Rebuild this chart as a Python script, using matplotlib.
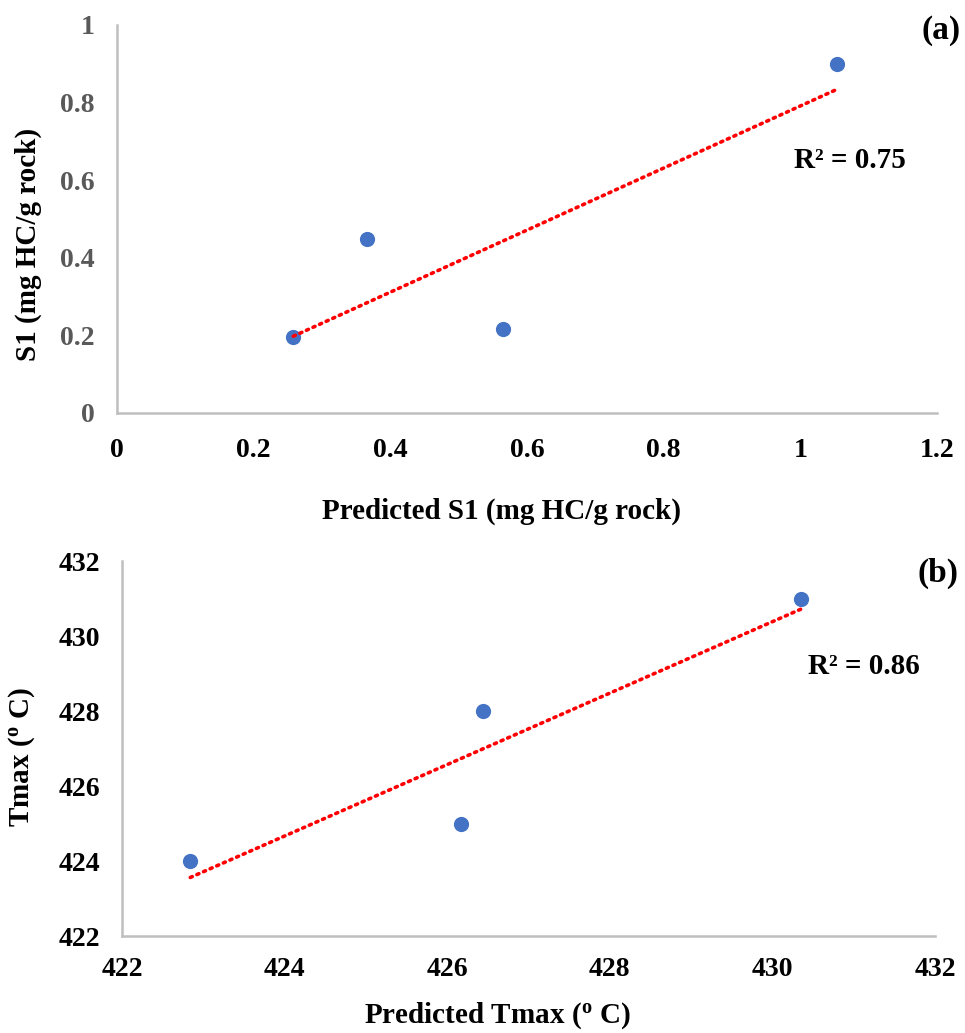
import numpy as np
import matplotlib
matplotlib.use("Agg")
import matplotlib.pyplot as plt

plt.rcParams['font.family'] = ['Liberation Serif', 'DejaVu Serif']
plt.rcParams['font.weight'] = 'bold'
plt.rcParams['mathtext.fontset'] = 'custom'
plt.rcParams['mathtext.rm'] = 'Liberation Serif:bold'
plt.rcParams['mathtext.bf'] = 'Liberation Serif:bold'
plt.rcParams['mathtext.it'] = 'Liberation Serif:bold'

# Panel (a)
s1_pred = [0.258, 0.366, 0.565, 1.054]
s1_meas = [0.196, 0.448, 0.216, 0.90]
s1_xticks = [0, 0.2, 0.4, 0.6, 0.8, 1, 1.2]
s1_yticks = [0, 0.2, 0.4, 0.6, 0.8, 1]
s1_r2 = "R² = 0.75"

# Panel (b)
t_pred = [422.84, 426.17, 426.44, 430.35]
t_meas = [424.0, 425.0, 428.0, 431.0]
t_xticks = [422, 424, 426, 428, 430, 432]
t_yticks = [422, 424, 426, 428, 430, 432]
t_r2 = "R² = 0.86"

W, H = 965, 1033
fig = plt.figure(figsize=(W/100, H/100), dpi=100)

blue = '#4472C4'
spine_c = '#BFBFBF'
TICK = 20
LAB = 21

def style(ax, ycolor, xpad, ypad):
    for s in ['top', 'right']:
        ax.spines[s].set_visible(False)
    for s in ['left', 'bottom']:
        ax.spines[s].set_color(spine_c)
        ax.spines[s].set_linewidth(1.8)
    ax.tick_params(length=0, labelsize=TICK)
    ax.tick_params(axis='x', pad=xpad)
    ax.tick_params(axis='y', pad=ypad)
    for lab in ax.get_yticklabels():
        lab.set_color(ycolor)
        lab.set_fontweight('bold')
    for lab in ax.get_xticklabels():
        lab.set_fontweight('bold')

def trend(ax, x, y):
    x = np.asarray(x); y = np.asarray(y)
    m, b = np.polyfit(x, y, 1)
    xs = np.array([x.min(), x.max()])
    ax.plot(xs, m*xs + b, linestyle=(0, (0.6, 1.4)), color='#FF0000', linewidth=2.6,
            dash_capstyle='round', zorder=3)

# Top
ax1 = fig.add_axes([117/W, 1-413/H, (937-117)/W, (413-25)/H])
ax1.scatter(s1_pred, s1_meas, s=120, color=blue, zorder=2, linewidths=0)
trend(ax1, s1_pred, s1_meas)
ax1.set_xlim(0, 1.2); ax1.set_ylim(0, 1)
ax1.set_xticks(s1_xticks); ax1.set_yticks(s1_yticks)
ax1.set_xticklabels(['0', '0.2', '0.4', '0.6', '0.8', '1', '1.2'])
ax1.set_yticklabels(['0', '0.2', '0.4', '0.6', '0.8', '1'])
style(ax1, '#595959', 18, 16)
fig.text(501/W, 1-511/H, 'Predicted S1 (mg HC/g rock)', fontsize=LAB, fontweight='bold',
         ha='center', va='center')
fig.text(28/W, 1-244/H, 'S1 (mg HC/g rock)', fontsize=LAB, fontweight='bold',
         ha='center', va='center', rotation=90)
fig.text(850/W, 1-160/H, s1_r2, fontsize=LAB, fontweight='bold', ha='center', va='center')
fig.text(941/W, 1-30/H, '(a)', fontsize=24, fontweight='bold', ha='center', va='center')

# Bottom
ax2 = fig.add_axes([122/W, 1-936/H, (935-122)/W, (936-561)/H])
ax2.scatter(t_pred, t_meas, s=120, color=blue, zorder=2, linewidths=0)
trend(ax2, t_pred, t_meas)
ax2.set_xlim(422, 432); ax2.set_ylim(422, 432)
ax2.set_xticks(t_xticks); ax2.set_yticks(t_yticks)
style(ax2, 'black', 15, 16)
fig.text(497/W, 1-1016/H, r'Predicted Tmax ($^{\mathbf{o}}$ C)', fontsize=LAB, fontweight='bold',
         ha='center', va='center')
fig.text(22/W, 1-757/H, r'Tmax ($^{\mathbf{o}}$ C)', fontsize=LAB, fontweight='bold',
         ha='center', va='center', rotation=90)
fig.text(864/W, 1-667/H, t_r2, fontsize=LAB, fontweight='bold', ha='center', va='center')
fig.text(938/W, 1-573/H, '(b)', fontsize=24, fontweight='bold', ha='center', va='center')

fig.savefig('out.png', dpi=100)
